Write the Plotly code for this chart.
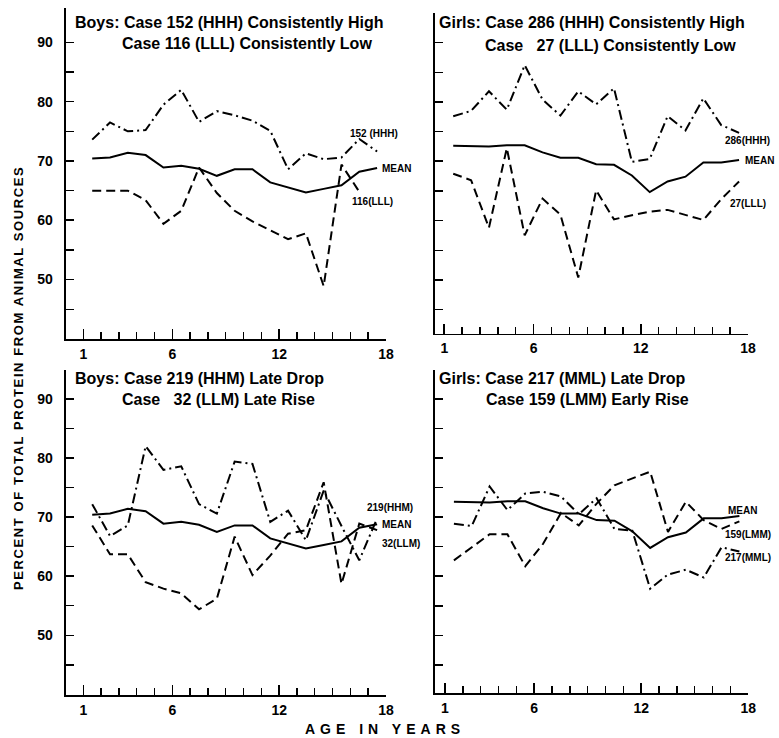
import plotly.graph_objects as go

# ---------------- data ----------------
ages = [1.5, 2.5, 3.5, 4.5, 5.5, 6.5, 7.5, 8.5, 9.5, 10.5, 11.5, 12.5, 13.5, 14.5, 15.5, 16.5, 17.5]

boys_mean = [70.4, 70.6, 71.4, 71.0, 68.9, 69.2, 68.7, 67.5, 68.6, 68.6, 66.4, 65.6, 64.7, 65.3, 65.9, 68.2, 68.8]
case152_hhh = [73.6, 76.5, 75.0, 75.2, 79.5, 82.0, 76.6, 78.4, 77.7, 76.8, 75.1, 68.6, 71.3, 70.3, 70.6, 73.7, 71.6]
case116_lll = [65.0, 65.0, 65.0, 63.4, 59.4, 61.6, 68.9, 64.6, 61.6, 59.8, 58.3, 56.8, 57.8, 48.9, 69.4, 64.8, None]
case219_hhm = [72.2, 66.8, 68.6, 82.0, 78.0, 78.6, 72.2, 70.6, 79.4, 79.0, 69.2, 71.1, 66.1, 74.5, 68.5, 62.7, 69.8]
case32_llm = [68.6, 63.7, 63.7, 59.0, 57.9, 57.1, 54.4, 56.2, 66.7, 60.2, 63.5, 67.2, 67.8, 75.9, 58.7, 68.9, 67.8]

girls_mean = [72.6, 72.6, 72.5, 72.7, 72.7, 71.5, 70.6, 70.6, 69.5, 69.4, 67.6, 64.8, 66.6, 67.4, 69.8, 69.8, 70.2]
case286_hhh = [77.6, 78.5, 81.8, 78.7, 86.2, 80.4, 77.7, 81.8, 79.6, 82.3, 69.9, 70.4, 77.6, 75.2, 80.6, 76.1, 74.8]
case27_lll = [67.9, 66.8, 58.8, 72.2, 57.5, 63.7, 61.0, 50.4, 65.1, 60.2, 60.9, 61.5, 61.8, 60.9, 60.1, 63.6, 66.6]
case217_mml = [68.9, 68.5, 75.2, 71.2, 74.0, 74.3, 73.5, 70.5, 73.2, 68.0, 67.7, 57.9, 60.3, 61.1, 59.8, 64.9, 64.2]
case159_lmm = [62.7, 64.9, 67.1, 67.1, 61.7, 65.5, 70.7, 68.6, 72.3, 75.4, 76.5, 77.7, 67.5, 72.6, 69.5, 68.0, 69.3]

x_tick_vals = [1, 6, 12, 18]
x_minor_vals = [v for v in range(2, 18) if v not in (6, 12)]
y_tick_vals = [50, 60, 70, 80, 90]
y_minor_vals = [45, 55, 65, 75, 85]

panel_titles = [
    ("Boys: Case 152 (HHH) Consistently High", "Case 116 (LLL) Consistently Low"),
    ("Girls: Case 286 (HHH) Consistently High", "Case   27 (LLL) Consistently Low"),
    ("Boys: Case 219 (HHM) Late Drop", "Case   32 (LLM) Late Rise"),
    ("Girls: Case 217 (MML) Late Drop", "Case 159 (LMM) Early Rise"),
]

# ---------------- layout geometry (pixels) ----------------
W, H = 779, 738
FONT = "Liberation Sans"

def px_x(p):
    return p / W

def px_y(p):
    return 1 - p / H

panels = [
    # (x0, x1, xrange, ytop, ybottom, yrange, show y labels)
    (65.5, 386.0, [0.0, 18.0], 8.0, 339.0, [39.98, 95.8], True),
    (435.0, 748.0, [0.48, 18.0], 13.0, 333.5, [40.96, 95.0], False),
    (65.5, 386.0, [0.0, 18.0], 370.0, 695.0, [39.9, 94.9], True),
    (435.0, 748.3, [0.44, 18.0], 370.0, 693.3, [40.2, 94.9], False),
]

series = [
    [(boys_mean, "solid"), (case152_hhh, "dashdot"), (case116_lll, "dash")],
    [(girls_mean, "solid"), (case286_hhh, "dashdot"), (case27_lll, "dash")],
    [(boys_mean, "solid"), (case219_hhm, "dashdot"), (case32_llm, "dash")],
    [(girls_mean, "solid"), (case217_mml, "dashdot"), (case159_lmm, "dash")],
]

DASHES = {"solid": "solid", "dash": "9px,5px", "dashdot": "10px,4px,2px,4px"}

fig = go.Figure()

for i, (x0, x1, xr, yt, yb, yr, showy) in enumerate(panels):
    n = "" if i == 0 else str(i + 1)
    for vals, style in series[i]:
        fig.add_trace(go.Scatter(
            x=ages, y=vals, mode="lines",
            line=dict(color="black", width=2, dash=DASHES[style]),
            xaxis="x" + n, yaxis="y" + n, showlegend=False, hoverinfo="skip",
            connectgaps=False,
        ))
    fig.layout["xaxis" + n] = dict(
        domain=[px_x(x0), px_x(x1)], range=xr, anchor="y" + n, automargin=False,
        showline=True, linecolor="black", linewidth=1.8, mirror=False,
        showgrid=False, zeroline=False,
        tickmode="array", tickvals=x_tick_vals, ticktext=[str(v) for v in x_tick_vals],
        ticks="inside", ticklen=10, tickwidth=1.6, tickcolor="black",
        minor=dict(tickmode="array", tickvals=x_minor_vals, ticks="inside",
                   ticklen=7, tickwidth=1.4, tickcolor="black", showgrid=False),
        tickfont=dict(family=FONT, size=14, color="black", weight="bold"),
        ticklabelstandoff=1,
    )
    fig.layout["yaxis" + n] = dict(
        domain=[px_y(yb), px_y(yt)], range=yr, anchor="x" + n, automargin=False,
        showline=True, linecolor="black", linewidth=1.8,
        showgrid=False, zeroline=False,
        tickmode="array", tickvals=y_tick_vals, ticktext=[str(v) for v in y_tick_vals],
        showticklabels=showy,
        ticks="inside", ticklen=8, tickwidth=1.6, tickcolor="black",
        minor=dict(tickmode="array", tickvals=y_minor_vals, ticks="inside",
                   ticklen=8, tickwidth=1.4, tickcolor="black", showgrid=False),
        tickfont=dict(family=FONT, size=14, color="black", weight="bold"),
        ticklabelstandoff=8,
    )

annotations = []

def add_text(text, x, y, size, xanchor="left", yanchor="middle", angle=0):
    annotations.append(dict(
        text=text, x=px_x(x), y=px_y(y), xref="paper", yref="paper",
        xanchor=xanchor, yanchor=yanchor, showarrow=False, textangle=angle,
        font=dict(family=FONT, size=size, color="black", weight="bold"),
    ))

# panel titles
title_pos = [((73, 22), (120, 43)), ((437, 22), (483, 45)),
             ((73, 378), (120, 399)), ((437, 378), (484, 400))]
for (l1, l2), ((ax1, ay1), (ax2, ay2)) in zip(panel_titles, title_pos):
    add_text(l1, ax1, ay1, 16)
    add_text(l2, ax2, ay2, 16)

# curve labels
curve_labels = [
    ("152 (HHH)", 348, 133), ("MEAN", 380, 169), ("116(LLL)", 350, 201),
    ("286(HHH)", 723, 140), ("MEAN", 743, 160), ("27(LLL)", 728, 203),
    ("219(HHM)", 365, 507), ("MEAN", 380, 524), ("32(LLM)", 380, 543),
    ("MEAN", 726, 510), ("159(LMM)", 723, 534), ("217(MML)", 723, 557),
]
for t, x, y in curve_labels:
    add_text(t, x, y, 10)

# axis titles
add_text('<span style="letter-spacing:1.6px">PERCENT OF TOTAL PROTEIN FROM ANIMAL SOURCES</span>',
         18, 378, 13, xanchor="center", yanchor="middle", angle=-90)
add_text('<span style="letter-spacing:5px">AGE IN YEARS</span>',
         385, 729, 14, xanchor="center", yanchor="middle")

fig.update_layout(
    template="none",
    width=W, height=H, margin=dict(l=0, r=0, t=0, b=0),
    paper_bgcolor="white", plot_bgcolor="white",
    annotations=annotations,
)

fig.write_html("out.html", config={"displayModeBar": False, "staticPlot": True},
               post_script="document.body.style.margin='0px';")
